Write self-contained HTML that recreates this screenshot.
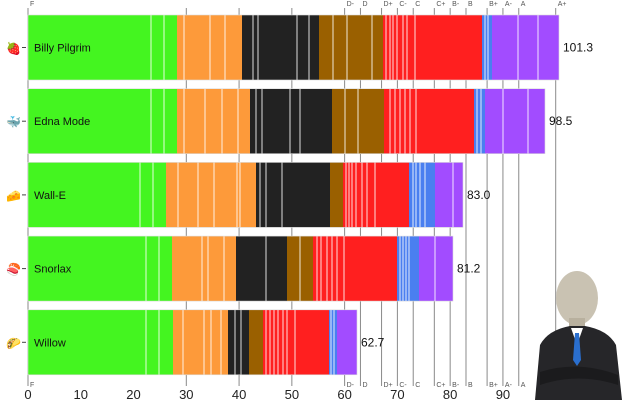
<!DOCTYPE html>
<html><head><meta charset="utf-8"><style>
html,body{margin:0;padding:0;background:#fff;width:640px;height:400px;overflow:hidden}
svg{display:block;font-family:"Liberation Sans","DejaVu Sans",sans-serif}
</style></head><body>
<svg id="s" width="640" height="400" viewBox="0 0 640 400">
<g id="grid"></g><g id="bars"></g><g id="txt"></g>
<!-- meme man approximation -->
<g>
<ellipse cx="577" cy="298" rx="21" ry="27" fill="#c9c2b2"/>
<rect x="569" y="318" width="16" height="14" fill="#b8b09e"/>
<path d="M535 400 L540 345 Q548 330 570 326 L585 326 Q608 330 616 345 L622 400 Z" fill="#262629"/>
<path d="M571 328 L577 345 L583 328 Z" fill="#fff"/>
<path d="M575 333 L579 333 L581 360 L577 366 L573 360 Z" fill="#2a6fcf"/>
<path d="M540 372 Q578 360 618 375 L618 385 Q578 372 540 385 Z" fill="#1b1b1d"/>
</g>
</svg>
<script>
var X=function(v){return 28+v*5.277};
var ns="http://www.w3.org/2000/svg";
function el(p,t,a,txt){var e=document.createElementNS(ns,t);for(var k in a)e.setAttribute(k,a[k]);if(txt!=null)e.textContent=txt;document.getElementById(p).appendChild(e);return e;}
var grades=[[0,"F"],[30,""],[40,""],[50,""],[60,"D-"],[63,"D"],[67,"D+"],[70,"C-"],[73,"C"],[77,"C+"],[80,"B-"],[83,"B"],[87,"B+"],[90,"A-"],[93,"A"],[100,"A+"]];
grades.forEach(function(g){var x=X(g[0]);el("grid","line",{x1:x,x2:x,y1:8,y2:386,stroke:"#8a8a8a","stroke-width":1});
if(g[1]){el("txt","text",{x:x+2,y:6,"font-size":7,fill:"#555"},g[1]);el("txt","text",{x:x+2,y:387,"font-size":7,fill:"#555"},g[1]);}});
for(var v=0;v<=100;v+=10){el("txt","text",{x:X(v),y:399,"font-size":13,"text-anchor":"middle",fill:"#222"},v);}
var C={g:"#44f520",o:"#fd9a3a",k:"#222222",b:"#9a6000",r:"#ff1f1f",u:"#4a7ff0",p:"#a24cff"};
var rows=[
 {n:"Billy Pilgrim",v:"101.3",ic:"🍓",s:[["g",28,177],["o",177,242],["k",242,319],["b",319,383],["r",383,482],["u",482,492],["p",492,559]],l:[151,164,184,210,225,253,258,297,309,333,347,372,386,390,393,397,403,407,415,485,488,518,538]},
 {n:"Edna Mode",v:"98.5",ic:"🐳",s:[["g",28,177],["o",177,250],["k",250,332],["b",332,384],["r",384,474],["u",474,485],["p",485,545]],l:[151,164,184,205,222,238,256,262,290,300,345,358,390,395,400,405,410,416,477,481,503,528]},
 {n:"Wall-E",v:"83.0",ic:"🧀",s:[["g",28,166],["o",166,256],["k",256,330],["b",330,343],["r",343,409],["u",409,435],["p",435,463]],l:[140,153,178,198,214,237,240,260,266,282,346,349,352,356,362,367,375,413,416,420,425,453]},
 {n:"Snorlax",v:"81.2",ic:"🍣",s:[["g",28,172],["o",172,236],["k",236,287],["b",287,313],["r",313,397],["u",397,419],["p",419,453]],l:[146,159,202,208,224,266,300,317,321,327,332,337,344,400,403,406,409,435]},
 {n:"Willow",v:"62.7",ic:"🌮",s:[["g",28,173],["o",173,228],["k",228,249],["b",249,263],["r",263,329],["u",329,337],["p",337,357]],l:[146,159,183,204,211,221,235,241,266,270,274,278,283,287,295,331,334]}
];
rows.forEach(function(r,i){var y=15+i*73.7,h=65;
 r.s.forEach(function(s){el("bars","rect",{x:s[1],y:y,width:s[2]-s[1],height:h,fill:C[s[0]]});});
 r.l.forEach(function(x){el("bars","line",{x1:x,x2:x,y1:y,y2:y+h,stroke:"#fff","stroke-opacity":0.85,"stroke-width":1});});
 el("bars","rect",{x:28,y:y,width:r.s[r.s.length-1][2]-28,height:h,fill:"none",stroke:"#ddd","stroke-width":0.6});
 el("txt","text",{x:34,y:y+h/2+4,"font-size":11,fill:"#111"},r.n);
 el("txt","text",{x:r.s[r.s.length-1][2]+4,y:y+h/2+4,"font-size":12,fill:"#111"},r.v);
 el("txt","text",{x:6,y:y+h/2+5,"font-size":12},r.ic);
 el("txt","line",{x1:22,x2:26,y1:y+h/2,y2:y+h/2,stroke:"#444"});
});
</script>
</body></html>
